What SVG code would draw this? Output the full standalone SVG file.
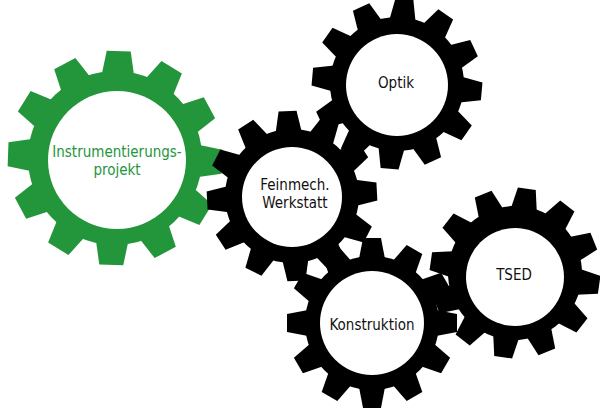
<svg xmlns="http://www.w3.org/2000/svg" xmlns:xlink="http://www.w3.org/1999/xlink" width="600" height="408" viewBox="0 0 600 408">
<style>
text{font-family:"DejaVu Sans Condensed","Liberation Sans",sans-serif;font-size:15px;text-anchor:middle}
.lb{fill:#111}.lg{fill:#23963b}
</style>
<defs>
<g id="bt">
<circle r="67"/>
<g id="t1"><polygon points="-13,-64 -9,-85 9,-85 13,-64"/><polygon transform="rotate(30)" points="-13,-64 -9,-85 9,-85 13,-64"/><polygon transform="rotate(60)" points="-13,-64 -9,-85 9,-85 13,-64"/></g>
<use xlink:href="#t1" transform="rotate(90)"/><use xlink:href="#t1" transform="rotate(180)"/><use xlink:href="#t1" transform="rotate(270)"/>
</g>
<g id="gt">
<circle r="87"/>
<g id="t2"><polygon points="-16,-84 -12,-107 12,-107 16,-84"/><polygon transform="rotate(30)" points="-16,-84 -12,-107 12,-107 16,-84"/><polygon transform="rotate(60)" points="-16,-84 -12,-107 12,-107 16,-84"/></g>
<use xlink:href="#t2" transform="rotate(90)"/><use xlink:href="#t2" transform="rotate(180)"/><use xlink:href="#t2" transform="rotate(270)"/>
</g>
</defs>
<g id="instr">
<use xlink:href="#gt" fill="#23963b" transform="translate(115,158) rotate(2)"/>
<circle cx="117" cy="160" r="69" fill="#fff"/>
<text class="lg" x="117" y="157">Instrumentierungs-</text>
<text class="lg" x="117" y="175">projekt</text>
</g>
<g id="optik">
<use xlink:href="#bt" fill="#000" transform="translate(397,84) rotate(5)"/>
<circle cx="397" cy="85" r="51" fill="#fff"/>
<text class="lb" x="396" y="88">Optik</text>
</g>
<g id="fein">
<use xlink:href="#bt" fill="#000" transform="translate(292,196) rotate(-3)"/>
<circle cx="292" cy="197" r="50" fill="#fff"/>
<text class="lb" x="295" y="190">Feinmech.</text>
<text class="lb" x="295" y="208">Werkstatt</text>
</g>
<g id="tsed">
<use xlink:href="#bt" fill="#000" transform="translate(515,273) rotate(8)"/>
<circle cx="515" cy="277" r="49" fill="#fff"/>
<text class="lb" x="514" y="280">TSED</text>
</g>
<g id="konst">
<use xlink:href="#bt" fill="#000" transform="translate(372,323) rotate(0)"/>
<circle cx="372" cy="323" r="52" fill="#fff"/>
<text class="lb" x="372" y="330">Konstruktion</text>
</g>
<g id="connectors"/>
</svg>
